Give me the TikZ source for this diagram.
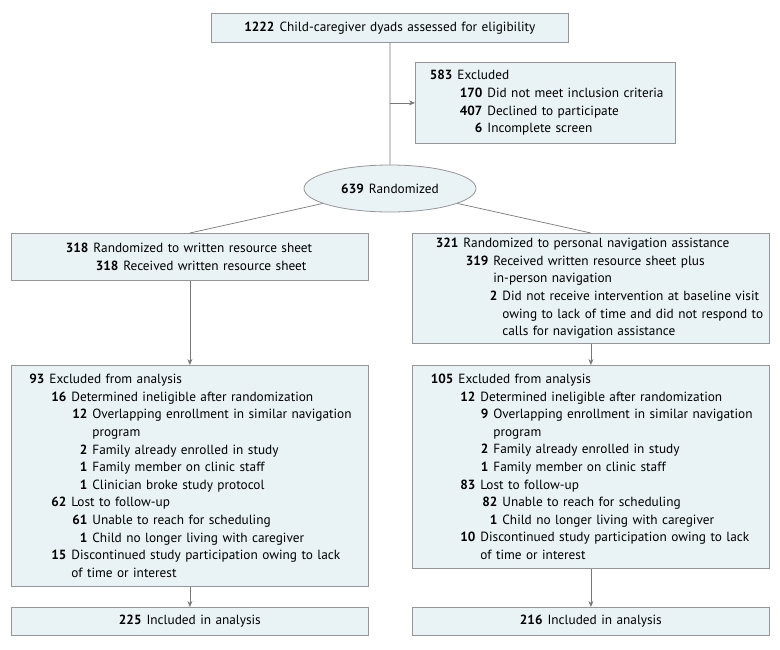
\documentclass[tikz,border=0pt]{standalone}
\usepackage{fontspec}
\setmainfont{PT Sans}
\usetikzlibrary{shapes.geometric,arrows.meta}
\definecolor{boxfill}{RGB}{233,242,244}
\definecolor{boxdraw}{RGB}{150,150,150}
\definecolor{linecol}{RGB}{120,120,120}
\newcommand{\rw}[3]{\leavevmode\hbox to #1pt{\hss\textbf{#2}\hskip 5pt}#3}
\newcommand{\cn}[2]{\leavevmode\hbox to #1pt{\hss}#2}
\tikzset{
  box/.style={draw=boxdraw, fill=boxfill, line width=0.8pt, rectangle, anchor=north west, inner xsep=0pt, inner ysep=2pt, align=left},
  cbox/.style={draw=boxdraw, fill=boxfill, line width=0.8pt, rectangle, anchor=north west, inner xsep=0pt, inner ysep=2pt, align=center},
  conn/.style={draw=linecol, line width=0.7pt},
  arr/.style={conn, -{Stealth[length=6pt,width=5pt]}}
}
\begin{document}
\begin{tikzpicture}[x=1pt,y=-1pt, font=\fontsize{13.3}{17.6}\selectfont]
\useasboundingbox (0,0) rectangle (780,649);
\node[cbox, text width=357pt, minimum height=29pt] (top) at (211,13) {\textbf{1222}\hspace{5pt}Child-caregiver dyads assessed for eligibility};
\node[box, text width=260pt, minimum height=81pt] (excl) at (415,62) {\rw{42}{583}{Excluded}\\\rw{72}{170}{Did not meet inclusion criteria}\\\rw{72}{407}{Declined to participate}\\\rw{72}{6}{Incomplete screen}};
\node[ellipse, draw=boxdraw, fill=boxfill, line width=0.8pt, minimum width=172pt, minimum height=47pt, inner sep=0pt] (rand) at (390,188.5) {\textbf{639}\hspace{5pt}Randomized};
\node[box, text width=357pt, minimum height=47pt] (l1) at (11,233) {\rw{82}{318}{Randomized to written resource sheet}\\\rw{112}{318}{Received written resource sheet}};
\node[box, text width=357pt, minimum height=110pt] (r1) at (412,233) {\rw{51}{321}{Randomized to personal navigation assistance}\\\rw{81}{319}{Received written resource sheet plus}\\\cn{81}{in-person navigation}\\\rw{90}{2}{Did not receive intervention at baseline visit}\\\cn{90}{owing to lack of time and did not respond to}\\\cn{90}{calls for navigation assistance}};
\node[box, text width=357pt, minimum height=221pt] (l2) at (11,365) {\rw{38}{93}{Excluded from analysis}\\\rw{60}{16}{Determined ineligible after randomization}\\\rw{81}{12}{Overlapping enrollment in similar navigation}\\\cn{81}{program}\\\rw{81}{2}{Family already enrolled in study}\\\rw{81}{1}{Family member on clinic staff}\\\rw{81}{1}{Clinician broke study protocol}\\\rw{60}{62}{Lost to follow-up}\\\rw{81}{61}{Unable to reach for scheduling}\\\rw{81}{1}{Child no longer living with caregiver}\\\rw{60}{15}{Discontinued study participation owing to lack}\\\cn{60}{of time or interest}};
\node[box, text width=357pt, minimum height=203pt] (r2) at (412,365) {\rw{46}{105}{Excluded from analysis}\\\rw{68}{12}{Determined ineligible after randomization}\\\rw{81}{9}{Overlapping enrollment in similar navigation}\\\cn{81}{program}\\\rw{81}{2}{Family already enrolled in study}\\\rw{81}{1}{Family member on clinic staff}\\\rw{68}{83}{Lost to follow-up}\\\rw{90}{82}{Unable to reach for scheduling}\\\rw{90}{1}{Child no longer living with caregiver}\\\rw{68}{10}{Discontinued study participation owing to lack}\\\cn{68}{of time or interest}};
\node[cbox, text width=357pt, minimum height=28pt] (l3) at (11,607) {\textbf{225}\hspace{5pt}Included in analysis};
\node[cbox, text width=357pt, minimum height=28pt] (r3) at (412,607) {\textbf{216}\hspace{5pt}Included in analysis};
\draw[conn] (top.south) -- (rand.north);
\draw[arr] (top.south |- excl.west) -- (excl.west);
\draw[conn] (rand) -- (l1.north);
\draw[conn] (rand) -- (r1.north);
\draw[arr] (l1.south) -- (l2.north);
\draw[arr] (r1.south) -- (r2.north);
\draw[arr] (l2.south) -- (l3.north);
\draw[arr] (r2.south) -- (r3.north);
\end{tikzpicture}
\end{document}
